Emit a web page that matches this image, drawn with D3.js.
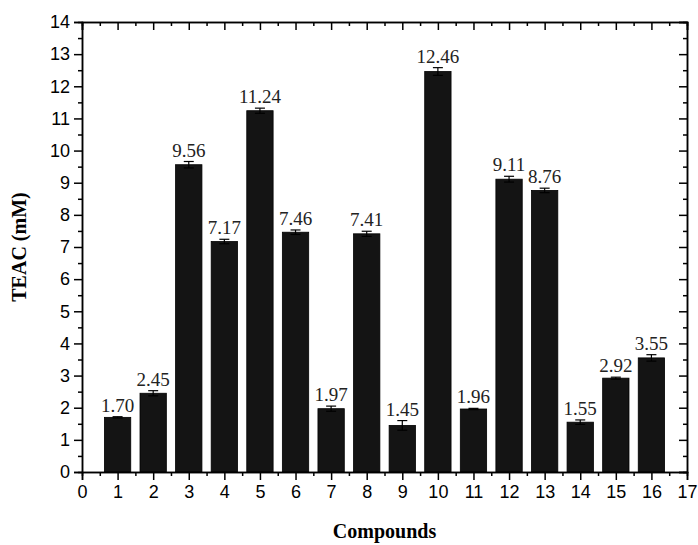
<!DOCTYPE html>
<html>
<head>
<meta charset="utf-8">
<script src="https://cdn.jsdelivr.net/npm/d3@7"></script>
<style>
  body { margin: 0; background: #fff; }
  svg text { fill: #000; }
</style>
</head>
<body>
<div id="chart"></div>
<script>
// data
var compounds = [1, 2, 3, 4, 5, 6, 7, 8, 9, 10, 11, 12, 13, 14, 15, 16];
var teac = [1.70, 2.45, 9.56, 7.17, 11.24, 7.46, 1.97, 7.41, 1.45, 12.46, 1.96, 9.11, 8.76, 1.55, 2.92, 3.55];
var errs = [0.02, 0.08, 0.10, 0.07, 0.08, 0.07, 0.08, 0.08, 0.15, 0.12, 0.02, 0.09, 0.07, 0.07, 0.03, 0.10];
var xTicks = d3.range(0, 18);
var yTicks = d3.range(0, 15);

// set the dimensions and margins of the graph
var margin = {top: 22, right: 11, bottom: 73, left: 82},
    width = 698 - margin.left - margin.right,
    height = 545 - margin.top - margin.bottom;

var x = d3.scaleLinear().domain([0, 17]).range([0, width]);
var y = d3.scaleLinear().domain([0, 14]).range([height, 0]);
var barW = x(0.74) - x(0);

var svg = d3.select("#chart").append("svg")
    .attr("width", 698)
    .attr("height", 545)
  .append("g")
    .attr("transform", "translate(" + margin.left + "," + margin.top + ")");

// bars
svg.selectAll(".bar")
    .data(teac)
  .enter().append("rect")
    .attr("class", "bar")
    .attr("x", function(d, i) { return x(compounds[i]) - barW / 2; })
    .attr("width", barW)
    .attr("y", function(d) { return y(d); })
    .attr("height", function(d) { return height - y(d); })
    .attr("fill", "#141414")
    .attr("stroke", "#000")
    .attr("stroke-width", 0.8);

// error bars
var eb = svg.selectAll(".err")
    .data(teac)
  .enter().append("g")
    .attr("class", "err")
    .attr("stroke", "#000")
    .attr("stroke-width", 1.2);
eb.append("line")
    .attr("x1", function(d, i) { return x(compounds[i]); })
    .attr("x2", function(d, i) { return x(compounds[i]); })
    .attr("y1", function(d, i) { return y(d - errs[i]); })
    .attr("y2", function(d, i) { return y(d + errs[i]); });
[-1, 1].forEach(function(s) {
  eb.append("line")
      .attr("x1", function(d, i) { return x(compounds[i]) - 5; })
      .attr("x2", function(d, i) { return x(compounds[i]) + 5; })
      .attr("y1", function(d, i) { return y(d + s * errs[i]); })
      .attr("y2", function(d, i) { return y(d + s * errs[i]); });
});

// value labels
svg.selectAll(".val")
    .data(teac)
  .enter().append("text")
    .attr("class", "val")
    .attr("x", function(d, i) { return x(compounds[i]); })
    .attr("y", function(d, i) { return y(d + errs[i]) - 5; })
    .attr("text-anchor", "middle")
    .style("font-family", "'Liberation Serif', 'Times New Roman', serif")
    .style("font-size", "19px")
    .style("fill", "#222")
    .text(function(d) { return d.toFixed(2); });

// axes: major + minor ticks
function styleAxis(g) {
  g.select(".domain").attr("stroke", "#000").attr("stroke-width", 1.5);
  g.selectAll(".tick line").attr("stroke", "#000").attr("stroke-width", 1.5);
  g.selectAll("text")
    .style("font-family", "'Liberation Sans', Arial, sans-serif")
    .style("font-size", "18px");
}
var xMinor = d3.range(0.5, 17, 1);
var yMinor = d3.range(0.5, 14, 1);

svg.append("g")
    .attr("transform", "translate(0," + height + ")")
    .call(d3.axisBottom(x).tickValues(xMinor).tickSize(4).tickFormat(""))
    .call(styleAxis);
svg.append("g")
    .attr("transform", "translate(0," + height + ")")
    .call(d3.axisBottom(x).tickValues(xTicks).tickSize(8).tickPadding(5).tickFormat(d3.format("d")))
    .call(styleAxis);

svg.append("g")
    .call(d3.axisLeft(y).tickValues(yMinor).tickSize(4).tickFormat(""))
    .call(styleAxis);
svg.append("g")
    .call(d3.axisLeft(y).tickValues(yTicks).tickSize(8).tickPadding(4).tickFormat(d3.format("d")))
    .call(styleAxis);

// top axis (inward ticks)
svg.append("g")
    .call(d3.axisTop(x).tickValues(xMinor).tickSize(-4).tickFormat(""))
    .call(styleAxis);
svg.append("g")
    .call(d3.axisTop(x).tickValues(xTicks).tickSize(-8).tickFormat(""))
    .call(styleAxis);

// right axis (inward ticks)
svg.append("g")
    .attr("transform", "translate(" + width + ",0)")
    .call(d3.axisRight(y).tickValues(yMinor).tickSize(-4).tickFormat(""))
    .call(styleAxis);
svg.append("g")
    .attr("transform", "translate(" + width + ",0)")
    .call(d3.axisRight(y).tickValues(yTicks).tickSize(-8).tickFormat(""))
    .call(styleAxis);

// axis titles
svg.append("text")
    .attr("x", width / 2)
    .attr("y", height + 66)
    .attr("text-anchor", "middle")
    .style("font-family", "'Liberation Serif', 'Times New Roman', serif")
    .style("font-weight", "bold")
    .style("font-size", "20px")
    .text("Compounds");

svg.append("text")
    .attr("transform", "translate(" + (-56) + "," + (height / 2) + ") rotate(-90)")
    .attr("text-anchor", "middle")
    .style("font-family", "'Liberation Serif', 'Times New Roman', serif")
    .style("font-weight", "bold")
    .style("font-size", "20px")
    .text("TEAC (mM)");
</script>
</body>
</html>
